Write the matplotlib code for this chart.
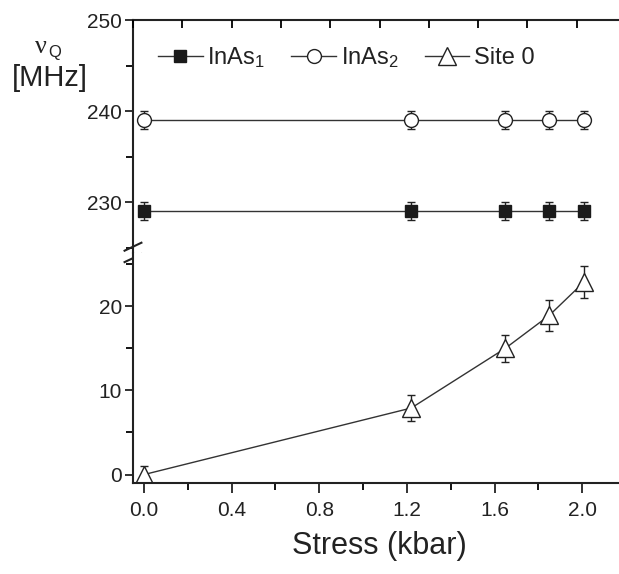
import matplotlib
matplotlib.use("Agg")
import matplotlib.pyplot as plt
from matplotlib.ticker import MultipleLocator
from matplotlib.lines import Line2D

plt.rcParams['font.family'] = ['Liberation Sans Narrow', 'Liberation Sans', 'DejaVu Sans']
plt.rcParams['mathtext.fontset'] = 'custom'
plt.rcParams['mathtext.rm'] = 'Liberation Sans'
plt.rcParams['mathtext.default'] = 'regular'

# ---- data ----
stress = [0.0, 1.22, 1.65, 1.85, 2.01]
inas1 = [229, 229, 229, 229, 229]
inas1_err = [1.0, 1.0, 1.0, 1.0, 1.0]
inas2 = [239, 239, 239, 239, 239]
inas2_err = [1.0, 1.0, 1.0, 1.0, 1.0]
site0 = [0.0, 7.9, 15.0, 18.9, 22.9]
site0_err = [1.0, 1.5, 1.6, 1.8, 1.9]
labels = ["InAs$_{1}$", "InAs$_{2}$", "Site 0"]

W, H = 619, 574
fig = plt.figure(figsize=(W / 100, H / 100), dpi=100)

left = 133 / W
right = 626 / W
top = 1 - 20 / H
split = 1 - 253 / H
bottom = 1 - 483 / H

ax_up = fig.add_axes([left, split, right - left, top - split])
ax_lo = fig.add_axes([left, bottom, right - left, split - bottom], sharex=ax_up)

lc = '#333333'
kw = dict(color=lc, lw=1.0, ecolor='#222222', elinewidth=1.0, capsize=3, capthick=1.0)

st1 = dict(marker='s', ms=9, mfc='#1a1a1a', mec='#1a1a1a')
st2 = dict(marker='o', ms=10, mfc='white', mec='#222222', mew=1.0)
st3 = dict(marker='^', ms=13, mfc='white', mec='#222222', mew=1.0)

ax_up.errorbar(stress, inas1, yerr=inas1_err, **st1, **kw)
ax_up.errorbar(stress, inas2, yerr=inas2_err, **st2, **kw)
ax_lo.errorbar(stress, site0, yerr=site0_err, **st3, **kw)

ax_up.set_ylim(224.4, 250)
ax_lo.set_ylim(-1.0, 26.3)
ax_lo.set_xlim(-0.05, 2.2)

for ax in (ax_up, ax_lo):
    for s in ax.spines.values():
        s.set_linewidth(1.5)
        s.set_color('#222222')
ax_up.spines['bottom'].set_visible(False)
ax_lo.spines['top'].set_visible(False)

ax_up.yaxis.set_major_locator(MultipleLocator(10))
ax_up.yaxis.set_minor_locator(MultipleLocator(5))
ax_lo.yaxis.set_major_locator(MultipleLocator(10))
ax_lo.yaxis.set_minor_locator(MultipleLocator(5))
ax_lo.xaxis.set_major_locator(MultipleLocator(0.4))
ax_lo.xaxis.set_minor_locator(MultipleLocator(0.2))
ax_lo.xaxis.set_major_formatter(matplotlib.ticker.FormatStrFormatter('%.1f'))

for ax in (ax_up, ax_lo):
    ax.tick_params(axis='y', which='major', direction='out', length=6, width=1.3,
                   labelsize=15, pad=2, colors='#222222')
    ax.tick_params(axis='y', which='minor', direction='out', length=5, width=1.3)
ax_up.tick_params(axis='x', which='both', bottom=False, top=False, labelbottom=False)
ax_lo.tick_params(axis='x', which='major', direction='out', length=7, width=1.3,
                  labelsize=15, pad=6, colors='#222222')
ax_lo.tick_params(axis='x', which='minor', direction='out', length=5, width=1.3)

# top inward ticks
ax_t = ax_up.twiny()
ax_t.set_xlim(0, 10)
ax_t.xaxis.set_major_locator(MultipleLocator(1))
ax_t.tick_params(axis='x', direction='in', length=6, width=1.3, labeltop=False)
for s in ax_t.spines.values():
    s.set_visible(False)

# right inward ticks
for ax in (ax_up, ax_lo):
    sec = ax.secondary_yaxis('right')
    sec.yaxis.set_major_locator(MultipleLocator(10))
    sec.tick_params(direction='in', length=5, width=1.0, labelright=False)

# break marks
for yc in (0.027, -0.022):
    ax_up.plot([-0.019, 0.019], [yc - 0.019, yc + 0.019], transform=ax_up.transAxes,
               color='#222222', lw=1.5, clip_on=False, solid_capstyle='butt')

ax_lo.set_xlabel("Stress (kbar)", fontsize=22, labelpad=8, color='#222222')

fig.text(41 / W, 1 - 47 / H, "ν", fontsize=19, ha='center', va='center',
         family=['Liberation Serif', 'DejaVu Sans'], color='#222222')
fig.text(55 / W, 1 - 53 / H, "Q", fontsize=12, ha='center', va='center', color='#222222')
fig.text(50 / W, 1 - 78 / H, "[MHz]", fontsize=21, ha='center', va='center', color='#222222')

handles = [Line2D([], [], color=lc, lw=1.0, **st1),
           Line2D([], [], color=lc, lw=1.0, **st2),
           Line2D([], [], color=lc, lw=1.0, **st3)]
leg = ax_up.legend(handles, labels, loc='center left', bbox_to_anchor=(0.05, 0.84),
                   ncol=3, frameon=False, fontsize=17, handlelength=1.9, handletextpad=0.2,
                   columnspacing=1.1, borderpad=0, borderaxespad=0)
for t in leg.get_texts():
    t.set_color('#222222')

fig.savefig("out.png", dpi=100)
